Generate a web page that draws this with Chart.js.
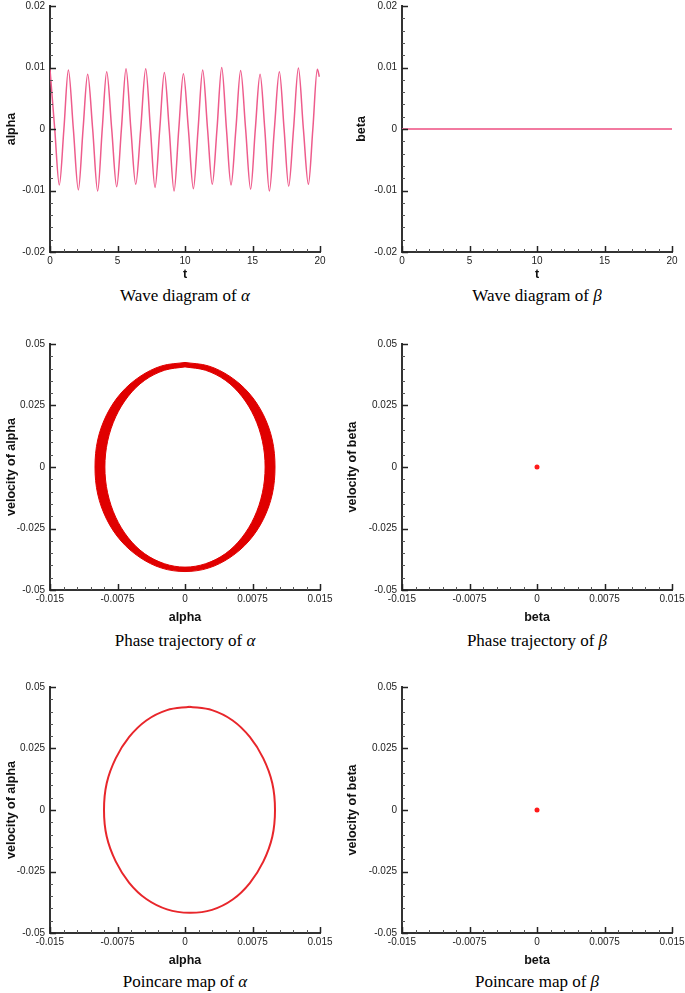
<!DOCTYPE html>
<html>
<head>
<meta charset="utf-8">
<title>alpha / beta response</title>
<script src="https://cdn.jsdelivr.net/npm/chart.js@4/dist/chart.umd.min.js"></script>
<style>
  html, body { margin: 0; padding: 0; background: #fff; overflow: hidden; }
  body { position: relative; width: 685px; height: 993px; }
  canvas { position: absolute; }
  .cap { position: absolute; width: 300px; margin-left: -150px; text-align: center;
         font-family: "Liberation Serif", "Times New Roman", serif; font-size: 17px; line-height: 20px; color: #000; }
  .cap i { font-style: italic; }
</style>
</head>
<body>
<canvas id="waveA" width="340" height="282" style="left:0;top:0"></canvas>
<canvas id="waveB" width="345" height="282" style="left:340px;top:0"></canvas>
<canvas id="phaseA" width="340" height="287" style="left:0;top:338px"></canvas>
<canvas id="phaseB" width="345" height="287" style="left:340px;top:338px"></canvas>
<canvas id="poinA" width="340" height="287" style="left:0;top:681px"></canvas>
<canvas id="poinB" width="345" height="287" style="left:340px;top:681px"></canvas>

<div class="cap" style="left:185px;top:286px">Wave diagram of <i>α</i></div>
<div class="cap" style="left:537px;top:286px">Wave diagram of <i>β</i></div>
<div class="cap" style="left:185px;top:631px">Phase trajectory of <i>α</i></div>
<div class="cap" style="left:537px;top:631px">Phase trajectory of <i>β</i></div>
<div class="cap" style="left:185px;top:972px">Poincare map of <i>α</i></div>
<div class="cap" style="left:537px;top:972px">Poincare map of <i>β</i></div>

<script>
// time history of alpha: peaks, troughs and zero crossings
const waveT = [0, 0.35, 0.69, 1.03, 1.36, 1.73, 2.10, 2.45, 2.79, 3.16, 3.53, 3.87, 4.20, 4.57, 4.94,
  5.29, 5.63, 5.99, 6.35, 6.72, 7.09, 7.44, 7.78, 8.13, 8.47, 8.83, 9.19, 9.54, 9.88, 10.25, 10.62,
  10.97, 11.31, 11.67, 12.02, 12.37, 12.72, 13.07, 13.41, 13.77, 14.12, 14.49, 14.86, 15.21, 15.56,
  15.91, 16.25, 16.62, 16.99, 17.34, 17.68, 18.04, 18.40, 18.77, 19.14, 19.47, 19.80, 19.95];
const waveAlpha = [0.0097, 0, -0.0091, 0, 0.0096, 0, -0.0099, 0, 0.0089, 0, -0.0101, 0, 0.0093, 0, -0.0094,
  0, 0.0098, 0, -0.0090, 0, 0.0098, 0, -0.0095, 0, 0.0092, 0, -0.0101, 0, 0.0090, 0, -0.0097,
  0, 0.0096, 0, -0.0090, 0, 0.0100, 0, -0.0091, 0, 0.0095, 0, -0.0098, 0, 0.0089,
  0, -0.0101, 0, 0.0093, 0, -0.0093, 0, 0.0099, 0, -0.0090, 0, 0.0097, 0.0085];

// beta stays at zero
const waveBetaT = [0, 20];
const waveBeta = [0, 0];

// phase trajectory of alpha: outer and inner edge of the band
const ringOuterX = [0, 0.0026, 0.0050, 0.0071, 0.0087, 0.0097, 0.0100, 0.0097, 0.0087, 0.0071, 0.0050, 0.0026,
  0, -0.0026, -0.0050, -0.0071, -0.0087, -0.0097, -0.0100, -0.0097, -0.0087, -0.0071, -0.0050, -0.0026, 0];
const ringOuterV = [0.0425, 0.0411, 0.0368, 0.0301, 0.0213, 0.0110, 0, -0.0110, -0.0213, -0.0301, -0.0368, -0.0411,
  -0.0425, -0.0411, -0.0368, -0.0301, -0.0213, -0.0110, 0, 0.0110, 0.0213, 0.0301, 0.0368, 0.0411, 0.0425];
const ringInnerX = [0, 0.0023, 0.0045, 0.0063, 0.0077, 0.0086, 0.0089, 0.0086, 0.0077, 0.0063, 0.0045, 0.0023,
  0, -0.0023, -0.0045, -0.0063, -0.0077, -0.0086, -0.0089, -0.0086, -0.0077, -0.0063, -0.0045, -0.0023, 0];
const ringInnerV = [0.0407, 0.0393, 0.0352, 0.0288, 0.0204, 0.0105, 0, -0.0105, -0.0204, -0.0288, -0.0352, -0.0393,
  -0.0407, -0.0393, -0.0352, -0.0288, -0.0204, -0.0105, 0, 0.0105, 0.0204, 0.0288, 0.0352, 0.0393, 0.0407];

// poincare map of alpha
const poincareX = [0.0005, 0.0030, 0.0053, 0.0072, 0.0087, 0.0097, 0.0100, 0.0097, 0.0087, 0.0072, 0.0053, 0.0030,
  0.0005, -0.0020, -0.0043, -0.0062, -0.0077, -0.0087, -0.0090, -0.0087, -0.0077, -0.0062, -0.0043, -0.0020, 0.0005];
const poincareV = [0.0420, 0.0406, 0.0364, 0.0297, 0.0210, 0.0109, 0, -0.0109, -0.0210, -0.0297, -0.0364, -0.0406,
  -0.0418, -0.0404, -0.0362, -0.0296, -0.0209, -0.0108, 0, 0.0109, 0.0210, 0.0297, 0.0364, 0.0406, 0.0420];

// beta phase / poincare: a single point at the origin
const betaX = [0];
const betaV = [0];

// axis ticks (major + minor) and major labels
const tTicks = [0, 1, 2, 3, 4, 5, 6, 7, 8, 9, 10, 11, 12, 13, 14, 15, 16, 17, 18, 19, 20];
const tMajor = [0, 5, 10, 15, 20];
const tLabels = ['0', '5', '10', '15', '20'];
const waveTicks = [-0.02, -0.018, -0.016, -0.014, -0.012, -0.01, -0.008, -0.006, -0.004, -0.002, 0,
  0.002, 0.004, 0.006, 0.008, 0.01, 0.012, 0.014, 0.016, 0.018, 0.02];
const waveMajor = [-0.02, -0.01, 0, 0.01, 0.02];
const waveLabels = ['-0.02', '-0.01', '0', '0.01', '0.02'];
const dispTicks = [-0.015, -0.0135, -0.012, -0.0105, -0.009, -0.0075, -0.006, -0.0045, -0.003, -0.0015, 0,
  0.0015, 0.003, 0.0045, 0.006, 0.0075, 0.009, 0.0105, 0.012, 0.0135, 0.015];
const dispMajor = [-0.015, -0.0075, 0, 0.0075, 0.015];
const dispLabels = ['-0.015', '-0.0075', '0', '0.0075', '0.015'];
const velTicks = [-0.05, -0.045, -0.04, -0.035, -0.03, -0.025, -0.02, -0.015, -0.01, -0.005, 0,
  0.005, 0.01, 0.015, 0.02, 0.025, 0.03, 0.035, 0.04, 0.045, 0.05];
const velMajor = [-0.05, -0.025, 0, 0.025, 0.05];
const velLabels = ['-0.05', '-0.025', '0', '0.025', '0.05'];

const sans = '"Liberation Sans", Arial, Helvetica, sans-serif';

function pts(xs, ys) {
  return xs.map((x, i) => ({ x: x, y: ys[i] }));
}

function isMajor(majors, v) {
  return majors.some(m => Math.abs(m - v) < 1e-9);
}

// tecplot style ticks: pointing into the plot
const inwardTicks = {
  id: 'inwardTicks',
  afterDraw(chart) {
    const ctx = chart.ctx;
    const a = chart.chartArea;
    ctx.save();
    ['x', 'y'].forEach(id => {
      const s = chart.scales[id];
      s.ticks.forEach(t => {
        const len = t.big ? 6 : 3;
        ctx.lineWidth = t.big ? 1.5 : 1;
        ctx.strokeStyle = t.big ? '#222' : '#555';
        const p = Math.round(s.getPixelForValue(t.value)) + 0.5;
        ctx.beginPath();
        if (id === 'x') {
          ctx.moveTo(p, a.bottom);
          ctx.lineTo(p, a.bottom - len);
        } else {
          ctx.moveTo(a.left, p);
          ctx.lineTo(a.left + len, p);
        }
        ctx.stroke();
      });
    });
    ctx.restore();
  }
};

function makeAxis(horizontal, tickVals, majors, labels, title, size, titlePad) {
  return {
    type: 'linear',
    position: horizontal ? 'bottom' : 'left',
    min: tickVals[0],
    max: tickVals[tickVals.length - 1],
    afterBuildTicks: s => {
      s.ticks = tickVals.map(v => ({ value: v, big: isMajor(majors, v) }));
    },
    afterFit: s => {
      if (horizontal) {
        s.height = size;
        s.paddingLeft = 0;
        s.paddingRight = 0;
      } else {
        s.width = size;
        s.paddingTop = 0;
        s.paddingBottom = 0;
      }
    },
    ticks: {
      autoSkip: false,
      maxRotation: 0,
      padding: horizontal ? 3 : 5,
      color: '#222',
      font: { family: sans, size: 10 },
      callback: v => {
        const i = majors.findIndex(m => Math.abs(m - v) < 1e-9);
        return i >= 0 ? labels[i] : '';
      }
    },
    grid: { display: true, drawOnChartArea: false, drawTicks: false },
    border: { display: true, color: '#333', width: 2 },
    title: {
      display: true,
      text: title,
      color: '#111',
      font: { family: sans, size: 12.5, weight: 'bold' },
      padding: horizontal ? { top: 0, bottom: 0 } : { top: titlePad, bottom: 0 }
    }
  };
}

function makeChart(id, datasets, xAxis, yAxis, padRight) {
  return new Chart(document.getElementById(id), {
    type: 'scatter',
    data: { datasets: datasets },
    options: {
      responsive: false,
      animation: false,
      events: [],
      layout: { padding: { top: 6, right: padRight, bottom: 0, left: 0 } },
      plugins: { legend: { display: false }, tooltip: { enabled: false } },
      scales: { x: xAxis, y: yAxis }
    },
    plugins: [inwardTicks]
  });
}

// wave diagrams
makeChart('waveA', [{
  data: pts(waveT, waveAlpha),
  showLine: true,
  borderColor: '#ee5c8c',
  borderWidth: 1.5,
  pointRadius: 0,
  cubicInterpolationMode: 'monotone'
}], makeAxis(true, tTicks, tMajor, tLabels, 't', 30),
   makeAxis(false, waveTicks, waveMajor, waveLabels, 'alpha', 50, 4.5), 20);

makeChart('waveB', [{
  data: pts(waveBetaT, waveBeta),
  showLine: true,
  borderColor: '#f27aa0',
  borderWidth: 2,
  pointRadius: 0
}], makeAxis(true, tTicks, tMajor, tLabels, 't', 30),
   makeAxis(false, waveTicks, waveMajor, waveLabels, 'beta', 62, 14), 13);

// phase trajectories
makeChart('phaseA', [{
  data: pts(ringInnerX, ringInnerV),
  showLine: true,
  fill: 'shape',
  backgroundColor: '#ffffff',
  borderColor: '#e00000',
  borderWidth: 1,
  pointRadius: 0,
  tension: 0.34
}, {
  data: pts(ringOuterX, ringOuterV),
  showLine: true,
  fill: 'shape',
  backgroundColor: '#e00000',
  borderColor: '#e00000',
  borderWidth: 1,
  pointRadius: 0,
  tension: 0.34
}], makeAxis(true, dispTicks, dispMajor, dispLabels, 'alpha', 35),
   makeAxis(false, velTicks, velMajor, velLabels, 'velocity of alpha', 50, 4.5), 20);

makeChart('phaseB', [{
  data: pts(betaX, betaV),
  pointRadius: 2.5,
  pointBackgroundColor: '#ff1a1a',
  pointBorderWidth: 0
}], makeAxis(true, dispTicks, dispMajor, dispLabels, 'beta', 35),
   makeAxis(false, velTicks, velMajor, velLabels, 'velocity of beta', 62, 5.5), 13);

// poincare maps
makeChart('poinA', [{
  data: pts(poincareX, poincareV),
  showLine: true,
  borderColor: '#e8262b',
  borderWidth: 2,
  pointRadius: 0,
  tension: 0.34
}], makeAxis(true, dispTicks, dispMajor, dispLabels, 'alpha', 35),
   makeAxis(false, velTicks, velMajor, velLabels, 'velocity of alpha', 50, 4.5), 20);

makeChart('poinB', [{
  data: pts(betaX, betaV),
  pointRadius: 2.5,
  pointBackgroundColor: '#ff1a1a',
  pointBorderWidth: 0
}], makeAxis(true, dispTicks, dispMajor, dispLabels, 'beta', 35),
   makeAxis(false, velTicks, velMajor, velLabels, 'velocity of beta', 62, 5.5), 13);
</script>
</body>
</html>
